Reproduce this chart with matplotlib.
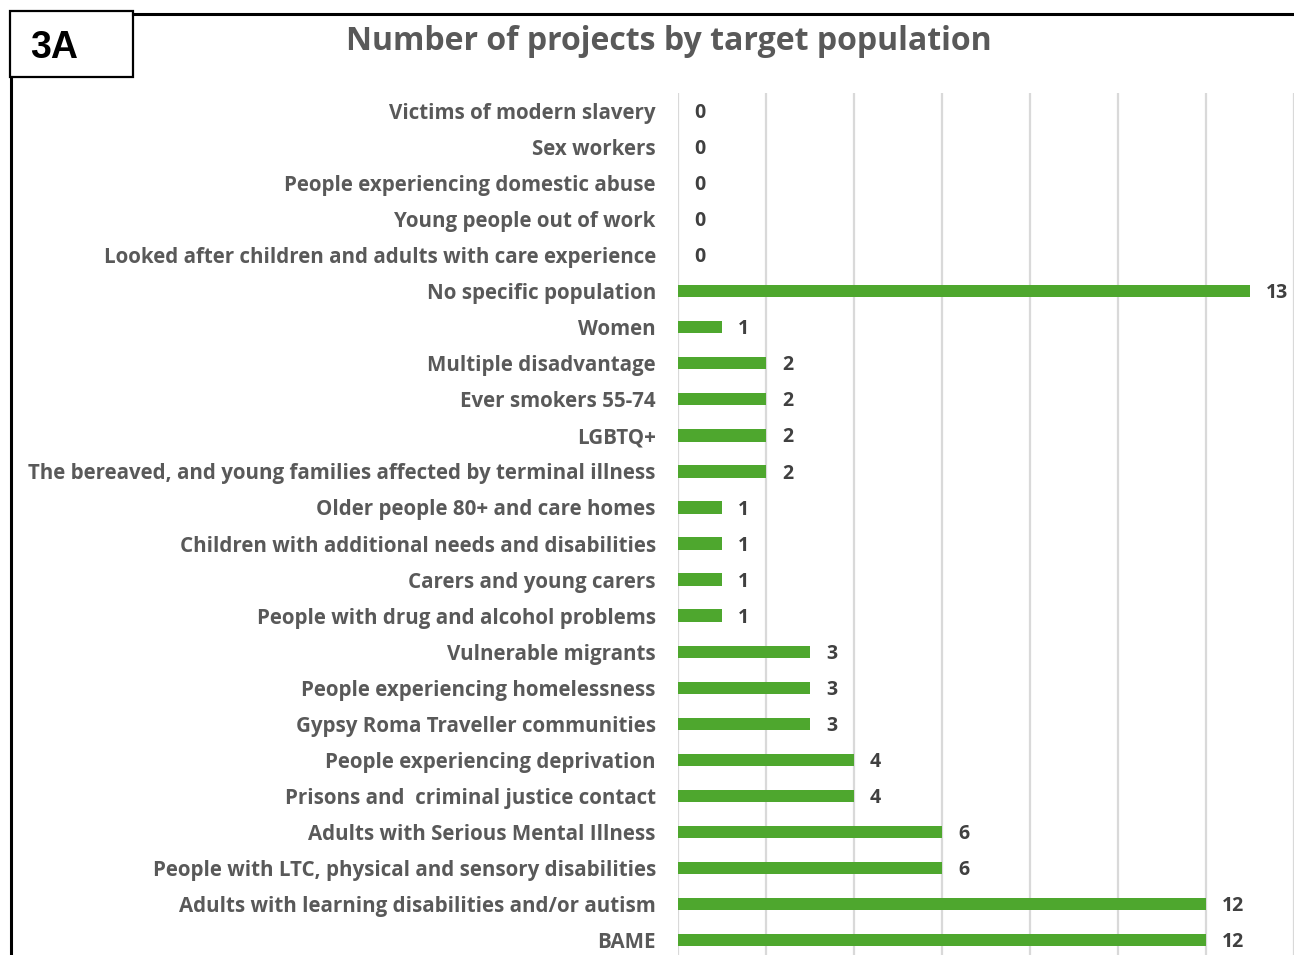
import numpy as np
import matplotlib.pyplot as plt
from matplotlib.patches import Rectangle
from matplotlib.lines import Line2D

# data, top to bottom as shown
populations = [
    "Victims of modern slavery",
    "Sex workers",
    "People experiencing domestic abuse",
    "Young people out of work",
    "Looked after children and adults with care experience",
    "No specific population",
    "Women",
    "Multiple disadvantage",
    "Ever smokers 55-74",
    "LGBTQ+",
    "The bereaved, and young families affected by terminal illness",
    "Older people 80+ and care homes",
    "Children with additional needs and disabilities",
    "Carers and young carers",
    "People with drug and alcohol problems",
    "Vulnerable migrants",
    "People experiencing homelessness",
    "Gypsy Roma Traveller communities",
    "People experiencing deprivation",
    "Prisons and  criminal justice contact",
    "Adults with Serious Mental Illness",
    "People with LTC, physical and sensory disabilities",
    "Adults with learning disabilities and/or autism",
    "BAME",
]
n_projects = [0, 0, 0, 0, 0, 13, 1, 2, 2, 2, 2, 1, 1, 1, 1, 3, 3, 3, 4, 4, 6, 6, 12, 12]

W, H = 1294, 955
GREEN = "#4EA72E"
GRAY = "#595959"
label_font = "Open Sans"
x0 = 678  # pixel column of value 0

fig = plt.figure(figsize=(W / 100, H / 100), dpi=100)

# axes run off the right and bottom edges like the cropped original
ax = fig.add_axes([x0 / W, -3 / H, (W - x0) / W, 865 / H])
y = np.arange(len(populations))
ax.barh(y, n_projects, height=0.34, color=GREEN, zorder=3)
ax.set_ylim(len(populations) - 0.5, -0.5)
ax.set_xlim(0, (W - x0) / 44.8)
ax.set_xticks(np.arange(0, 15, 2))
ax.xaxis.grid(True, color="#D9D9D9", linewidth=1.6, zorder=0)
ax.tick_params(axis="x", length=0, labelbottom=False)
ax.tick_params(axis="y", length=0, pad=16)
ax.set_yticks(y)
ax.set_yticklabels(populations, fontsize=14.8, color=GRAY,
                   fontfamily=label_font, fontweight="bold")
for s in ax.spines.values():
    s.set_visible(False)

for yi, v in zip(y, n_projects):
    ax.annotate(str(v), (v, yi), xytext=(11.5, -1.5), textcoords="offset points",
                ha="left", va="center", fontsize=14, color="#404040",
                fontfamily=label_font, fontweight="bold")

fig.text(669 / W, 1 - 42 / H, "Number of projects by target population",
         ha="center", va="center", fontsize=23, color=GRAY,
         fontfamily=label_font, fontweight="bold")

# panel frame and "3A" tag
fig.add_artist(Line2D([133 / W, 1], [1 - 14 / H, 1 - 14 / H], color="black", lw=2.2))
fig.add_artist(Line2D([11 / W, 11 / W], [1 - 77 / H, 0], color="black", lw=2.2))
fig.add_artist(Rectangle((10 / W, 1 - 77 / H), 123 / W, 66 / H, transform=fig.transFigure,
                         facecolor="white", edgecolor="black", lw=1.6))
fig.text(30 / W, 1 - 48 / H, "3A", ha="left", va="center", fontsize=27,
         fontweight="bold", color="black", fontfamily="Liberation Sans")

fig.savefig("out.png", dpi=100)
